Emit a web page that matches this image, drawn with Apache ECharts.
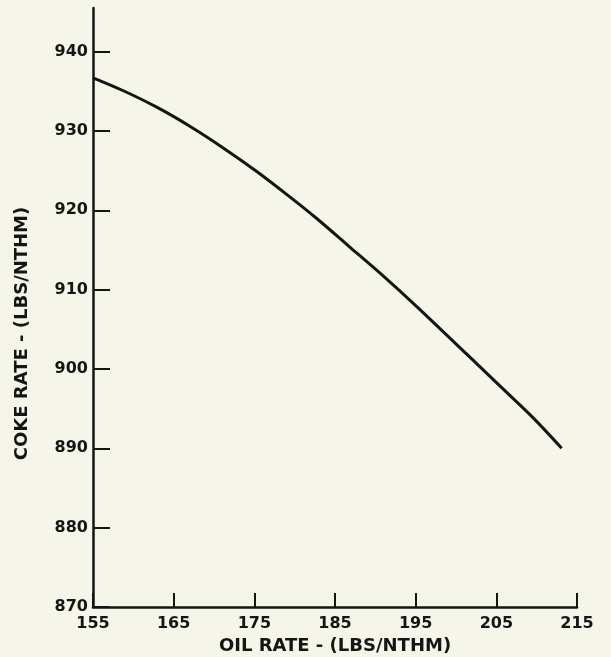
<!DOCTYPE html>
<html>
<head>
<meta charset="utf-8">
<script src="https://cdn.jsdelivr.net/npm/echarts@6/dist/echarts.min.js"></script>
<style>
html,body{margin:0;padding:0;background:#f6f5ea;}
#c{width:611px;height:657px;}
</style>
</head>
<body>
<div id="c"></div>
<script>
// Data
const oilRate = [155, 158.7, 162.9, 167, 171.1, 175.3, 179.4, 182.7, 186.8, 191, 195.1, 201.3, 205.5, 209.6, 213.1];
const cokeRate = [936.7, 935.1, 933.0, 930.6, 927.9, 924.9, 921.7, 919.0, 915.4, 911.7, 907.9, 901.9, 897.8, 893.8, 890.0];
const xTicks = [155, 165, 175, 185, 195, 205, 215];
const yTicks = [870, 880, 890, 900, 910, 920, 930, 940];
const xName = 'OIL RATE - (LBS/NTHM)';
const yName = 'COKE RATE - (LBS/NTHM)';

const ink = '#151515';
const font = 'DejaVu Sans';
const chart = echarts.init(document.getElementById('c'));
chart.setOption({
  backgroundColor: '#f6f5ea',
  animation: false,
  grid: { left: 93, right: 34, top: 8, bottom: 50, outerBoundsMode: 'none', containLabel: false },
  xAxis: {
    type: 'value', min: 155, max: 215, interval: 10,
    name: xName, nameLocation: 'middle', nameGap: 30,
    nameTextStyle: { fontFamily: font, fontWeight: 'bold', fontSize: 18, color: ink },
    axisLine: { lineStyle: { color: ink, width: 2.5 } },
    axisTick: { inside: true, length: 14, lineStyle: { color: ink, width: 2 }, customValues: xTicks },
    axisLabel: { fontFamily: font, fontWeight: 'bold', fontSize: 16, color: ink, margin: 9, customValues: xTicks },
    splitLine: { show: false }
  },
  yAxis: {
    type: 'value', min: 870, max: 945.5, interval: 10,
    name: yName, nameLocation: 'middle', nameGap: 62, nameRotate: 90,
    nameTextStyle: { fontFamily: font, fontWeight: 'bold', fontSize: 18, color: ink, padding: [0, 52, 0, 0] },
    axisLine: { lineStyle: { color: ink, width: 2.5 } },
    axisTick: { inside: true, length: 17, lineStyle: { color: ink, width: 2 }, customValues: yTicks },
    axisLabel: { fontFamily: font, fontWeight: 'bold', fontSize: 16, color: ink, margin: 5, customValues: yTicks },
    splitLine: { show: false }
  },
  series: [{
    type: 'line',
    data: oilRate.map((x, i) => [x, cokeRate[i]]),
    smooth: 0.3,
    showSymbol: false,
    lineStyle: { color: ink, width: 3 }
  }]
});
</script>
</body>
</html>
